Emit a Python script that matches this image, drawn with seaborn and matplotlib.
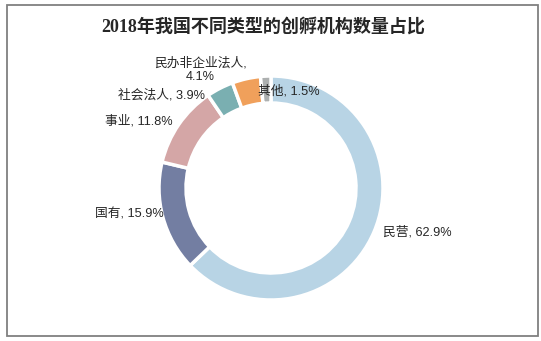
import matplotlib
matplotlib.use("Agg")
import matplotlib.pyplot as plt
import seaborn as sns
from matplotlib.patches import Rectangle

categories = ["民营", "国有", "事业", "社会法人", "民办非企业法人", "其他"]
values = [62.9, 15.9, 11.8, 3.9, 4.1, 1.5]
label_texts = ["民营, 62.9%", "国有, 15.9%", "事业, 11.8%", "社会法人, 3.9%",
               "民办非企业法人,\n4.1%", "其他, 1.5%"]
title = "2018年我国不同类型的创孵机构数量占比"

colors = ["#B8D4E5", "#737EA2", "#D4A6A6", "#7AAFB1", "#F0A05B", "#ADB0B0"]

sns.set_theme(style="white")
plt.rcParams["font.family"] = ["Liberation Sans", "Noto Sans CJK SC"]

W, H = 541, 341
fig = plt.figure(figsize=(W / 100, H / 100), dpi=100)
fig.patch.set_facecolor("white")
ax = fig.add_axes([0, 0, 1, 1])

cx, cy, R = 271, H - 188, 112
ax.pie(values, colors=colors, startangle=90, counterclock=False,
       radius=R, center=(cx, cy),
       wedgeprops=dict(width=27, edgecolor="white", linewidth=2.5))
ax.set_xlim(0, W)
ax.set_ylim(0, H)
ax.set_aspect("equal")
ax.axis("off")

# label placements (pixel coords from top-left): x, y, ha
label_pos = [(383, 232, "left"), (164, 214, "right"), (173, 121, "right"),
             (205, 95, "right"), (200, 70, "center"), (258, 91, "left")]
for txt, (x, y, ha) in zip(label_texts, label_pos):
    ax.text(x, H - y, txt, ha=ha, va="center", fontsize=9.2, color="#262626",
            multialignment="center", linespacing=1.25)

fig.text(263 / W, 1 - 27 / H, title, ha="center", va="center",
         fontsize=13, fontweight="bold", color="#262626",
         family=["Liberation Serif", "Noto Sans CJK SC"])

fig.patches.append(Rectangle((7 / W, 1 - 336 / H), (538 - 7) / W, (336 - 5) / H,
                             transform=fig.transFigure, fill=False,
                             edgecolor="#808080", linewidth=1.3))

fig.savefig("out.png", dpi=100)
